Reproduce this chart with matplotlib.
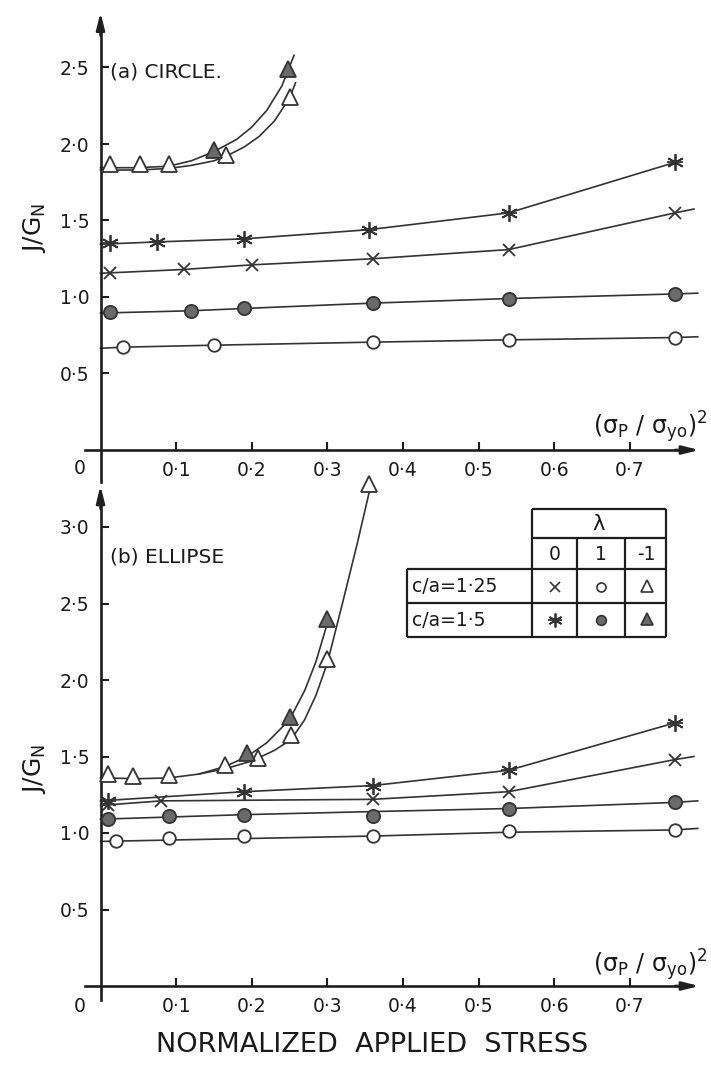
import matplotlib
matplotlib.use("Agg")
import matplotlib.pyplot as plt

plt.rcParams["font.family"] = ["DejaVu Sans"]
plt.rcParams["mathtext.fontset"] = "dejavusans"
plt.rcParams["mathtext.default"] = "regular"

# ---- (a) circle: marker values ----
a_open_circ_x = [0.03, 0.15, 0.36, 0.54, 0.76]
a_open_circ_y = [0.675, 0.685, 0.705, 0.72, 0.735]
a_fill_circ_x = [0.012, 0.12, 0.19, 0.36, 0.54, 0.76]
a_fill_circ_y = [0.90, 0.91, 0.925, 0.96, 0.99, 1.02]
a_cross_x = [0.012, 0.11, 0.20, 0.36, 0.54, 0.76]
a_cross_y = [1.16, 1.18, 1.21, 1.25, 1.31, 1.55]
a_star_x = [0.012, 0.075, 0.19, 0.355, 0.54, 0.76]
a_star_y = [1.35, 1.36, 1.38, 1.44, 1.55, 1.88]
a_open_tri_x = [0.012, 0.052, 0.09, 0.166, 0.25]
a_open_tri_y = [1.87, 1.87, 1.87, 1.93, 2.31]
a_fill_tri_x = [0.15, 0.248]
a_fill_tri_y = [1.96, 2.49]

# drawn curves of (a)
a_open_circ_line_x = [0.0, 0.03, 0.15, 0.36, 0.54, 0.76, 0.79]
a_open_circ_line_y = [0.665, 0.672, 0.685, 0.705, 0.72, 0.735, 0.74]
a_fill_circ_line_x = [0.0, 0.12, 0.19, 0.36, 0.54, 0.76, 0.79]
a_fill_circ_line_y = [0.895, 0.91, 0.925, 0.96, 0.99, 1.02, 1.025]
a_cross_line_x = [0.0, 0.11, 0.20, 0.36, 0.54, 0.76, 0.785]
a_cross_line_y = [1.155, 1.18, 1.21, 1.25, 1.31, 1.55, 1.575]
a_star_line_x = [0.0, 0.075, 0.19, 0.355, 0.54, 0.76]
a_star_line_y = [1.345, 1.36, 1.38, 1.44, 1.55, 1.88]
a_open_tri_line_x = [0.0, 0.05, 0.09, 0.12, 0.15, 0.166, 0.19, 0.21, 0.23, 0.25, 0.258]
a_open_tri_line_y = [1.83, 1.83, 1.84, 1.86, 1.89, 1.92, 1.98, 2.05, 2.15, 2.30, 2.40]
a_fill_tri_line_x = [0.0, 0.05, 0.09, 0.12, 0.15, 0.18, 0.20, 0.22, 0.24, 0.248, 0.256]
a_fill_tri_line_y = [1.845, 1.845, 1.855, 1.89, 1.95, 2.03, 2.11, 2.22, 2.38, 2.48, 2.58]

# ---- (b) ellipse ----
b_open_circ_x = [0.02, 0.09, 0.19, 0.36, 0.54, 0.76]
b_open_circ_y = [0.95, 0.97, 0.98, 0.98, 1.01, 1.02]
b_fill_circ_x = [0.01, 0.09, 0.19, 0.36, 0.54, 0.76]
b_fill_circ_y = [1.09, 1.11, 1.12, 1.11, 1.16, 1.20]
b_cross_x = [0.01, 0.08, 0.36, 0.54, 0.76]
b_cross_y = [1.18, 1.21, 1.22, 1.27, 1.48]
b_star_x = [0.01, 0.19, 0.36, 0.54, 0.76]
b_star_y = [1.21, 1.27, 1.31, 1.41, 1.72]
b_open_tri_x = [0.01, 0.043, 0.09, 0.165, 0.208, 0.252, 0.30, 0.355]
b_open_tri_y = [1.385, 1.375, 1.38, 1.445, 1.49, 1.64, 2.14, 3.28]
b_fill_tri_x = [0.194, 0.25, 0.30]
b_fill_tri_y = [1.52, 1.76, 2.40]

b_open_circ_line_x = [0.0, 0.36, 0.54, 0.76, 0.79]
b_open_circ_line_y = [0.945, 0.98, 1.005, 1.02, 1.03]
b_fill_circ_line_x = [0.0, 0.19, 0.36, 0.54, 0.76, 0.79]
b_fill_circ_line_y = [1.09, 1.12, 1.14, 1.16, 1.20, 1.21]
b_cross_line_x = [0.0, 0.08, 0.36, 0.54, 0.76, 0.785]
b_cross_line_y = [1.18, 1.21, 1.22, 1.27, 1.48, 1.50]
b_star_line_x = [0.0, 0.19, 0.36, 0.54, 0.76]
b_star_line_y = [1.21, 1.27, 1.31, 1.41, 1.72]
b_open_tri_line_x = [0.0, 0.05, 0.09, 0.13, 0.165, 0.20, 0.23, 0.252, 0.27, 0.285, 0.30, 0.32, 0.34, 0.356]
b_open_tri_line_y = [1.36, 1.355, 1.36, 1.385, 1.42, 1.47, 1.54, 1.61, 1.74, 1.90, 2.11, 2.50, 2.90, 3.24]
b_fill_tri_line_x = [0.13, 0.165, 0.194, 0.22, 0.25, 0.27, 0.285, 0.30]
b_fill_tri_line_y = [1.385, 1.435, 1.50, 1.59, 1.74, 1.93, 2.12, 2.37]

x_ticks = [0.1, 0.2, 0.3, 0.4, 0.5, 0.6, 0.7]
x_tick_labels = ["0·1", "0·2", "0·3", "0·4", "0·5", "0·6", "0·7"]
a_y_ticks = [0.5, 1.0, 1.5, 2.0, 2.5]
a_y_tick_labels = ["0·5", "1·0", "1·5", "2·0", "2·5"]
b_y_ticks = [0.5, 1.0, 1.5, 2.0, 2.5, 3.0]
b_y_tick_labels = ["0·5", "1·0", "1·5", "2·0", "2·5", "3·0"]

FIG_W, FIG_H = 711, 1065
X0_PX, X_SCALE, Y_SCALE = 100.5, 756.0, 153.0
AX_COL = "#1e1e1e"
LINE_COL = "#333333"
FILL_COL = "#6a6a6a"


def axes_rect(y0_px, xlim, ylim):
    left = X0_PX + xlim[0] * X_SCALE
    right = X0_PX + xlim[1] * X_SCALE
    top = y0_px - ylim[1] * Y_SCALE
    bottom = y0_px - ylim[0] * Y_SCALE
    return [left / FIG_W, 1 - bottom / FIG_H, (right - left) / FIG_W, (bottom - top) / FIG_H]


def style_axes(ax, xlim, ylim, yticks, ylabels, y_low, y_tip):
    ax.set_xlim(xlim)
    ax.set_ylim(ylim)
    ax.patch.set_visible(False)
    ax.spines["top"].set_visible(False)
    ax.spines["right"].set_visible(False)
    ax.spines["left"].set_position(("data", 0))
    ax.spines["bottom"].set_position(("data", 0))
    ax.spines["bottom"].set_bounds(-0.02, 0.77)
    ax.spines["left"].set_bounds(y_low, y_tip - 0.1)
    for s in ("left", "bottom"):
        ax.spines[s].set_linewidth(1.9)
        ax.spines[s].set_color(AX_COL)
    arrow = dict(arrowstyle="-|>,head_length=1.0,head_width=0.25", lw=1.9,
                 color=AX_COL, shrinkA=0, shrinkB=0)
    ax.annotate("", xy=(0.792, 0), xytext=(0.76, 0), arrowprops=arrow, annotation_clip=False)
    ax.annotate("", xy=(0, y_tip), xytext=(0, y_tip - 0.15), arrowprops=arrow, annotation_clip=False)
    ax.set_xticks(x_ticks)
    ax.set_xticklabels(x_tick_labels)
    ax.set_yticks(yticks)
    ax.set_yticklabels(ylabels)
    ax.tick_params(direction="in", length=6, width=1.5, color=AX_COL,
                   labelsize=13.5, pad=8, labelcolor="#1a1a1a")


def draw_star(ax, x, y, ms):
    ax.plot(x, y, ls="none", marker=(6, 2, 0), ms=ms, mew=1.3, mec=LINE_COL, zorder=4, clip_on=False)
    ax.plot(x, y, ls="none", marker="_", ms=ms, mew=1.3, mec=LINE_COL, zorder=4, clip_on=False)


def draw_panel(ax, d):
    line_kw = dict(color=LINE_COL, lw=1.2, zorder=2, clip_on=False)
    for lx, ly in d["lines"]:
        ax.plot(lx, ly, **line_kw)
    mk = dict(ls="none", mec=LINE_COL, mew=1.3, zorder=4, clip_on=False)
    ax.plot(d["oc"][0], d["oc"][1], marker="o", ms=9, mfc="white", **mk)
    ax.plot(d["fc"][0], d["fc"][1], marker="o", ms=9.5, mfc=FILL_COL, **mk)
    ax.plot(d["cr"][0], d["cr"][1], marker="x", ms=9, **mk)
    draw_star(ax, d["st"][0], d["st"][1], 12)
    ax.plot(d["ot"][0], d["ot"][1], marker="^", ms=11, mfc="white", **mk)
    ax.plot(d["ft"][0], d["ft"][1], marker="^", ms=11, mfc=FILL_COL, **mk)


fig = plt.figure(figsize=(FIG_W / 100, FIG_H / 100), dpi=100)
fig.patch.set_facecolor("white")

xlim = (-0.04, 0.80)
a_ylim = (-0.25, 2.90)
b_ylim = (-0.15, 3.32)
ax_a = fig.add_axes(axes_rect(450, xlim, a_ylim))
ax_b = fig.add_axes(axes_rect(986, xlim, b_ylim))
style_axes(ax_a, xlim, a_ylim, a_y_ticks, a_y_tick_labels, -0.21, 2.86)
style_axes(ax_b, xlim, b_ylim, b_y_ticks, b_y_tick_labels, -0.09, 3.27)

draw_panel(ax_a, {
    "lines": [(a_open_circ_line_x, a_open_circ_line_y), (a_fill_circ_line_x, a_fill_circ_line_y),
              (a_cross_line_x, a_cross_line_y), (a_star_line_x, a_star_line_y),
              (a_open_tri_line_x, a_open_tri_line_y), (a_fill_tri_line_x, a_fill_tri_line_y)],
    "oc": (a_open_circ_x, a_open_circ_y), "fc": (a_fill_circ_x, a_fill_circ_y),
    "cr": (a_cross_x, a_cross_y), "st": (a_star_x, a_star_y),
    "ot": (a_open_tri_x, a_open_tri_y), "ft": (a_fill_tri_x, a_fill_tri_y),
})
draw_panel(ax_b, {
    "lines": [(b_open_circ_line_x, b_open_circ_line_y), (b_fill_circ_line_x, b_fill_circ_line_y),
              (b_cross_line_x, b_cross_line_y), (b_star_line_x, b_star_line_y),
              (b_open_tri_line_x, b_open_tri_line_y), (b_fill_tri_line_x, b_fill_tri_line_y)],
    "oc": (b_open_circ_x, b_open_circ_y), "fc": (b_fill_circ_x, b_fill_circ_y),
    "cr": (b_cross_x, b_cross_y), "st": (b_star_x, b_star_y),
    "ot": (b_open_tri_x, b_open_tri_y), "ft": (b_fill_tri_x, b_fill_tri_y),
})

# overlay in pixel coordinates for free text and the key table
ov = fig.add_axes([0, 0, 1, 1])
ov.set_xlim(0, FIG_W)
ov.set_ylim(FIG_H, 0)
ov.axis("off")
ov.patch.set_visible(False)

txt = dict(color="#1a1a1a")
ov.text(80, 469, "0", ha="center", va="center", fontsize=13.5, **txt)
ov.text(80, 1007, "0", ha="center", va="center", fontsize=13.5, **txt)
ov.text(110, 72, "(a) CIRCLE.", ha="left", va="center", fontsize=14.5, **txt)
ov.text(110, 557, "(b) ELLIPSE", ha="left", va="center", fontsize=14.5, **txt)
xlab = r"$(\sigma_{P}\ /\ \sigma_{yo})^{2}$"
ov.text(708, 434, xlab, ha="right", va="baseline", fontsize=17, **txt)
ov.text(708, 972, xlab, ha="right", va="baseline", fontsize=17, **txt)
ylab = r"$J/G_{N}$"
ov.text(35, 228, ylab, ha="center", va="center", rotation=90, fontsize=18, **txt)
ov.text(35, 769, ylab, ha="center", va="center", rotation=90, fontsize=18, **txt)
ov.text(372, 1045, "NORMALIZED  APPLIED  STRESS", ha="center", va="center", fontsize=19.5, **txt)

# key table
tl = dict(color=AX_COL, lw=1.6, solid_capstyle="butt")
for y, x1, x2 in [(509, 532, 666), (538, 532, 666), (569, 407, 666), (603, 407, 666), (637, 407, 666)]:
    ov.plot([x1, x2], [y, y], **tl)
for x, y1, y2 in [(407, 569, 637), (532, 509, 637), (577, 538, 637), (625, 538, 637), (666, 509, 637)]:
    ov.plot([x, x], [y1, y2], **tl)
ov.text(599, 524, "λ", ha="center", va="center", fontsize=15, **txt)
for x, s in [(555, "0"), (601, "1"), (646, "-1")]:
    ov.text(x, 554, s, ha="center", va="center", fontsize=13.5, **txt)
ov.text(412, 587, "c/a=1·25", ha="left", va="center", fontsize=13.5, **txt)
ov.text(412, 621, "c/a=1·5", ha="left", va="center", fontsize=13.5, **txt)
km = dict(ls="none", mec=LINE_COL, mew=1.2)
ov.plot([555], [587], marker="x", ms=7.5, **km)
ov.plot([601], [587], marker="o", ms=6.5, mfc="white", **km)
ov.plot([647], [586], marker="^", ms=8, mfc="white", **km)
draw_star(ov, [555], [620], 10)
ov.plot([601], [620], marker="o", ms=7, mfc=FILL_COL, **km)
ov.plot([647], [619], marker="^", ms=8.5, mfc=FILL_COL, **km)

fig.savefig("out.png", dpi=100, facecolor="white")
